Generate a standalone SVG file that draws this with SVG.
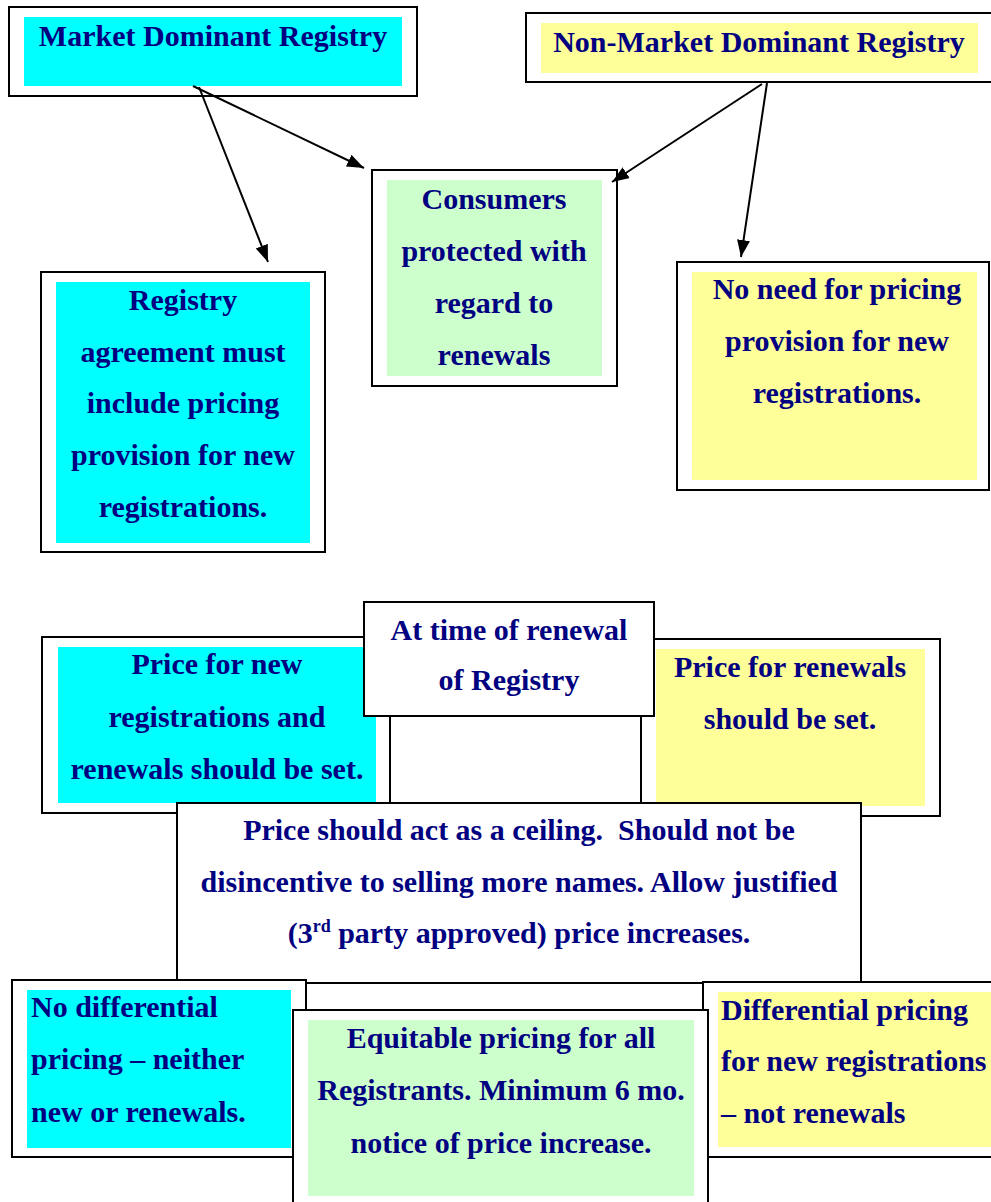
<svg xmlns="http://www.w3.org/2000/svg" width="991" height="1202" viewBox="0 0 991 1202">
<style>
.o{fill:#fff;stroke:#000;stroke-width:2}
.cy{fill:#00ffff}
.ye{fill:#ffff99}
.gr{fill:#ccffcc}
.t{font-family:"Liberation Serif","Times New Roman",serif;font-weight:bold;font-size:30px;fill:#000080}
.m{text-anchor:middle}
.cn{stroke:#000;stroke-width:2;fill:none;marker-end:url(#ah)}
</style>
<defs>
<marker id="ah" markerUnits="userSpaceOnUse" markerWidth="18" markerHeight="14" refX="17" refY="6.5" orient="auto">
<path d="M0,0 L17,6.5 L0,13 z" fill="#000"/>
</marker>
</defs>

<g id="market-dominant">
<rect class="o" x="9" y="7" width="408" height="89"/>
<rect class="cy" x="24" y="17" width="378" height="69"/>
<text class="t m" x="213" y="46">Market Dominant Registry</text>
</g>

<g id="non-market-dominant">
<rect class="o" x="526" y="13" width="470" height="69"/>
<rect class="ye" x="541" y="23" width="437" height="50"/>
<text class="t m" x="759" y="52">Non-Market Dominant Registry</text>
</g>

<g id="consumers">
<rect class="o" x="372" y="170" width="245" height="216"/>
<rect class="gr" x="387" y="180" width="215" height="196"/>
<text class="t m" x="494" y="209">Consumers</text>
<text class="t m" x="494" y="261">protected with</text>
<text class="t m" x="494" y="313">regard to</text>
<text class="t m" x="494" y="365">renewals</text>
</g>

<g id="registry-agreement">
<rect class="o" x="41" y="272" width="284" height="280"/>
<rect class="cy" x="56" y="282" width="254" height="261"/>
<text class="t m" x="183" y="310">Registry</text>
<text class="t m" x="183" y="362">agreement must</text>
<text class="t m" x="183" y="413">include pricing</text>
<text class="t m" x="183" y="465">provision for new</text>
<text class="t m" x="183" y="517">registrations.</text>
</g>

<g id="no-need">
<rect class="o" x="677" y="262" width="312" height="228"/>
<rect class="ye" x="692" y="272" width="285" height="208"/>
<text class="t m" x="837" y="299">No need for pricing</text>
<text class="t m" x="837" y="351">provision for new</text>
<text class="t m" x="837" y="403">registrations.</text>
</g>

<g id="connectors">
<line class="cn" x1="193" y1="86" x2="364" y2="168"/>
<line class="cn" x1="199" y1="87" x2="268" y2="262"/>
<line class="cn" x1="762" y1="84" x2="612" y2="182"/>
<line class="cn" x1="767" y1="83" x2="741" y2="257"/>
</g>

<g id="price-new-renewals">
<rect class="o" x="42" y="637" width="348" height="176"/>
<rect class="cy" x="58" y="647" width="318" height="156"/>
<text class="t m" x="217" y="674">Price for new</text>
<text class="t m" x="217" y="727">registrations and</text>
<text class="t m" x="217" y="779">renewals should be set.</text>
</g>

<g id="price-renewals">
<rect class="o" x="641" y="639" width="299" height="177"/>
<rect class="ye" x="656" y="649" width="269" height="157"/>
<text class="t m" x="790" y="677">Price for renewals</text>
<text class="t m" x="790" y="729">should be set.</text>
</g>

<g id="time-of-renewal">
<rect class="o" x="364" y="602" width="290" height="114"/>
<text class="t m" x="509" y="640">At time of renewal</text>
<text class="t m" x="509" y="690">of Registry</text>
</g>

<g id="price-ceiling">
<rect class="o" x="177" y="803" width="684" height="180"/>
<text class="t m" x="519" y="840">Price should act as a ceiling.&#160; Should not be</text>
<text class="t m" x="519" y="892">disincentive to selling more names. Allow justified</text>
<text class="t m" x="519" y="943">(3<tspan font-size="18" dy="-11">rd</tspan><tspan dy="11"> party approved) price increases.</tspan></text>
</g>

<g id="no-differential">
<rect class="o" x="12" y="980" width="294" height="177"/>
<rect class="cy" x="27" y="990" width="264" height="158"/>
<text class="t" x="31" y="1017">No differential</text>
<text class="t" x="31" y="1069">pricing – neither</text>
<text class="t" x="31" y="1122">new or renewals.</text>
</g>

<g id="differential">
<rect class="o" x="703" y="982" width="300" height="175"/>
<rect class="ye" x="718" y="992" width="280" height="155"/>
<text class="t" x="721" y="1020">Differential pricing</text>
<text class="t" x="721" y="1071">for new registrations</text>
<text class="t" x="721" y="1123">– not renewals</text>
</g>

<g id="equitable">
<rect class="o" x="293" y="1010" width="415" height="200"/>
<rect class="gr" x="308" y="1020" width="386" height="176"/>
<text class="t m" x="501" y="1048">Equitable pricing for all</text>
<text class="t m" x="501" y="1100">Registrants. Minimum 6 mo.</text>
<text class="t m" x="501" y="1153">notice of price increase.</text>
</g>
</svg>
